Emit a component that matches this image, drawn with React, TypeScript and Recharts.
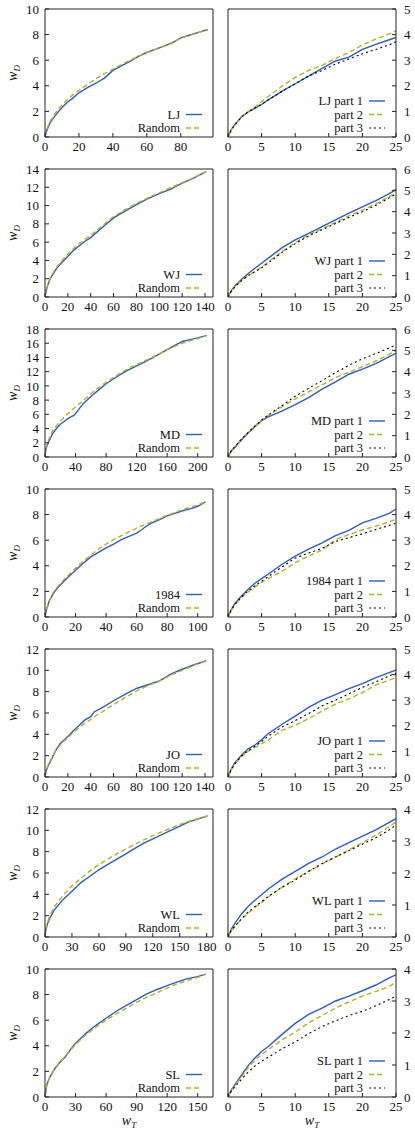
import { LineChart, Line, XAxis, YAxis } from "recharts";

const FONT = '"Liberation Serif", "Times New Roman", serif';
const BLUE = "#2b5cc4";
const OLIVE = "#b5b024";
const INK = "#111";
const FRAME = "#222";

// left column: w_D against w_T, book vs random
const ljX = [0, 1, 3, 5, 8, 10, 13, 16, 20, 25, 30, 35, 40, 45, 50, 55, 60, 65, 70, 75, 80, 85, 90, 96];
const ljBook = [0, 0.5, 1.1, 1.5, 2.0, 2.3, 2.7, 3.0, 3.45, 3.85, 4.2, 4.6, 5.2, 5.55, 5.9, 6.3, 6.6, 6.85, 7.1, 7.35, 7.75, 7.95, 8.15, 8.4];
const ljRandom = [0, 0.6, 1.2, 1.65, 2.2, 2.5, 2.9, 3.25, 3.65, 4.1, 4.55, 4.95, 5.3, 5.65, 6.0, 6.3, 6.6, 6.85, 7.1, 7.4, 7.7, 7.95, 8.15, 8.4];

const wjX = [0, 1, 3, 5, 8, 10, 15, 20, 25, 30, 35, 40, 50, 60, 70, 80, 90, 100, 110, 120, 130, 141];
const wjBook = [0, 0.7, 1.5, 2.1, 2.7, 3.1, 3.8, 4.45, 5.1, 5.6, 6.1, 6.5, 7.6, 8.65, 9.4, 10.1, 10.75, 11.3, 11.8, 12.45, 13.0, 13.7];
const wjRandom = [0, 0.75, 1.6, 2.2, 2.85, 3.25, 4.0, 4.7, 5.3, 5.85, 6.3, 6.75, 7.8, 8.8, 9.55, 10.25, 10.85, 11.4, 11.95, 12.5, 13.05, 13.7];

const mdX = [0, 1, 3, 5, 10, 15, 20, 25, 30, 35, 38, 40, 45, 50, 60, 70, 80, 90, 100, 110, 120, 130, 140, 150, 160, 170, 180, 190, 200, 212];
const mdBook = [0, 1.0, 1.7, 2.2, 3.3, 4.0, 4.6, 5.0, 5.4, 5.7, 5.85, 6.1, 6.8, 7.5, 8.5, 9.4, 10.3, 11.0, 11.7, 12.3, 12.8, 13.35, 13.9, 14.5, 15.1, 15.7, 16.25, 16.5, 16.75, 17.1];
const mdRandom = [0, 1.1, 1.9, 2.5, 3.7, 4.4, 5.0, 5.6, 6.1, 6.6, 6.85, 7.0, 7.5, 7.9, 8.9, 9.75, 10.5, 11.2, 11.9, 12.5, 13.0, 13.5, 14.0, 14.55, 15.1, 15.55, 16.0, 16.35, 16.65, 17.1];

const n84X = [0, 1, 3, 5, 8, 10, 15, 20, 25, 30, 35, 40, 45, 50, 55, 60, 63, 67, 70, 75, 80, 85, 90, 95, 100, 105];
const n84Book = [0, 0.6, 1.3, 1.75, 2.25, 2.5, 3.1, 3.65, 4.2, 4.7, 5.05, 5.4, 5.7, 6.05, 6.3, 6.55, 6.8, 7.15, 7.35, 7.6, 7.9, 8.1, 8.3, 8.45, 8.65, 9.0];
const n84Random = [0, 0.65, 1.35, 1.85, 2.35, 2.6, 3.25, 3.8, 4.35, 4.85, 5.3, 5.7, 6.05, 6.35, 6.65, 6.95, 7.1, 7.3, 7.45, 7.7, 7.95, 8.15, 8.4, 8.55, 8.75, 9.0];

const joX = [0, 1, 3, 5, 8, 10, 13, 16, 20, 25, 30, 35, 40, 43, 50, 60, 70, 80, 90, 100, 110, 120, 130, 141];
const joBook = [0, 0.6, 1.1, 1.5, 2.2, 2.6, 3.1, 3.4, 3.8, 4.35, 4.85, 5.35, 5.65, 6.1, 6.5, 7.15, 7.75, 8.3, 8.65, 9.0, 9.65, 10.1, 10.5, 10.9];
const joRandom = [0, 0.65, 1.2, 1.6, 2.2, 2.55, 2.95, 3.3, 3.7, 4.2, 4.65, 5.05, 5.4, 5.65, 6.1, 6.8, 7.45, 8.05, 8.55, 9.0, 9.55, 10.0, 10.45, 10.9];

const wlX = [0, 1, 3, 5, 10, 20, 30, 40, 50, 60, 70, 80, 90, 100, 110, 120, 130, 140, 150, 160, 170, 181];
const wlBook = [0, 0.7, 1.3, 1.7, 2.5, 3.5, 4.3, 5.1, 5.7, 6.3, 6.8, 7.3, 7.8, 8.3, 8.8, 9.2, 9.6, 10.0, 10.4, 10.8, 11.05, 11.35];
const wlRandom = [0, 0.8, 1.45, 1.9, 2.8, 3.9, 4.8, 5.5, 6.2, 6.8, 7.3, 7.8, 8.25, 8.7, 9.1, 9.5, 9.85, 10.2, 10.55, 10.85, 11.1, 11.35];

const slX = [0, 1, 2, 5, 8, 10, 15, 20, 25, 30, 40, 50, 60, 70, 80, 90, 100, 110, 120, 130, 140, 150, 158];
const slBook = [0, 0.6, 1.0, 1.6, 2.0, 2.25, 2.75, 3.15, 3.7, 4.2, 4.95, 5.6, 6.15, 6.7, 7.15, 7.6, 8.05, 8.4, 8.7, 9.0, 9.25, 9.4, 9.6];
const slRandom = [0, 0.6, 1.0, 1.6, 2.0, 2.25, 2.75, 3.2, 3.65, 4.1, 4.85, 5.45, 6.0, 6.5, 6.95, 7.4, 7.8, 8.15, 8.5, 8.85, 9.1, 9.35, 9.6];

// right column: first 25 of w_T, split into thirds
const partX = [0, 0.5, 1, 2, 3, 4, 5, 6, 8, 10, 12, 14, 16, 18, 20, 22, 24, 25];
const ljPart1 = [0, 0.3, 0.48, 0.78, 0.98, 1.12, 1.27, 1.45, 1.78, 2.08, 2.38, 2.68, 2.97, 3.12, 3.42, 3.62, 3.8, 3.89];
const ljPart2 = [0, 0.3, 0.48, 0.8, 1.0, 1.17, 1.38, 1.58, 1.98, 2.33, 2.6, 2.8, 3.07, 3.3, 3.6, 3.82, 4.03, 4.14];
const ljPart3 = [0, 0.28, 0.47, 0.78, 0.98, 1.14, 1.28, 1.45, 1.78, 2.08, 2.38, 2.6, 2.85, 3.05, 3.25, 3.42, 3.6, 3.72];
const wjPart1 = [0, 0.3, 0.5, 0.82, 1.1, 1.35, 1.58, 1.82, 2.3, 2.68, 2.98, 3.3, 3.62, 3.93, 4.23, 4.52, 4.85, 5.03];
const wjPart2 = [0, 0.28, 0.48, 0.78, 1.0, 1.2, 1.4, 1.65, 2.12, 2.55, 2.92, 3.2, 3.5, 3.8, 4.07, 4.37, 4.7, 4.86];
const wjPart3 = [0, 0.28, 0.47, 0.77, 1.0, 1.18, 1.37, 1.6, 2.08, 2.5, 2.87, 3.15, 3.45, 3.73, 4.0, 4.3, 4.65, 4.82];
const mdPart1 = [0, 0.28, 0.45, 0.8, 1.12, 1.42, 1.7, 1.88, 2.15, 2.45, 2.78, 3.18, 3.52, 3.88, 4.12, 4.38, 4.7, 4.86];
const mdPart2 = [0, 0.3, 0.48, 0.83, 1.15, 1.45, 1.72, 1.95, 2.35, 2.72, 3.05, 3.38, 3.72, 3.98, 4.23, 4.5, 4.82, 5.0];
const mdPart3 = [0, 0.3, 0.48, 0.84, 1.15, 1.45, 1.73, 1.97, 2.4, 2.85, 3.22, 3.58, 3.95, 4.3, 4.6, 4.85, 5.12, 5.25];
const n84Part1 = [0, 0.3, 0.52, 0.82, 1.08, 1.32, 1.5, 1.68, 2.05, 2.38, 2.65, 2.9, 3.18, 3.38, 3.68, 3.85, 4.05, 4.22];
const n84Part2 = [0, 0.28, 0.47, 0.76, 0.98, 1.18, 1.35, 1.5, 1.78, 2.12, 2.38, 2.62, 3.02, 3.22, 3.4, 3.55, 3.72, 3.82];
const n84Part3 = [0, 0.28, 0.48, 0.78, 1.02, 1.22, 1.4, 1.58, 1.95, 2.3, 2.5, 2.68, 2.95, 3.1, 3.25, 3.42, 3.58, 3.66];
const joPart1 = [0, 0.32, 0.55, 0.85, 1.1, 1.25, 1.45, 1.7, 2.05, 2.38, 2.72, 3.0, 3.22, 3.45, 3.65, 3.88, 4.08, 4.18];
const joPart2 = [0, 0.3, 0.5, 0.8, 1.0, 1.15, 1.3, 1.45, 1.82, 2.02, 2.28, 2.58, 2.85, 3.05, 3.3, 3.6, 3.78, 3.88];
const joPart3 = [0, 0.3, 0.5, 0.82, 1.03, 1.2, 1.38, 1.6, 1.95, 2.2, 2.48, 2.78, 3.0, 3.25, 3.5, 3.72, 3.95, 4.05];
const wlPart1 = [0, 0.25, 0.42, 0.72, 0.95, 1.15, 1.32, 1.5, 1.8, 2.05, 2.3, 2.5, 2.75, 2.95, 3.15, 3.35, 3.58, 3.7];
const wlPart2 = [0, 0.2, 0.32, 0.55, 0.75, 0.92, 1.08, 1.25, 1.55, 1.82, 2.05, 2.28, 2.5, 2.72, 2.95, 3.18, 3.45, 3.6];
const wlPart3 = [0, 0.2, 0.33, 0.57, 0.78, 0.95, 1.1, 1.27, 1.55, 1.78, 2.05, 2.3, 2.5, 2.7, 2.9, 3.1, 3.35, 3.5];
const slPart1 = [0, 0.22, 0.38, 0.68, 0.98, 1.22, 1.42, 1.58, 1.95, 2.3, 2.58, 2.78, 3.0, 3.15, 3.32, 3.5, 3.72, 3.82];
const slPart2 = [0, 0.2, 0.35, 0.62, 0.92, 1.15, 1.33, 1.48, 1.78, 2.03, 2.32, 2.55, 2.78, 2.97, 3.15, 3.3, 3.45, 3.6];
const slPart3 = [0, 0.18, 0.32, 0.55, 0.78, 0.97, 1.12, 1.25, 1.5, 1.72, 1.98, 2.2, 2.38, 2.55, 2.68, 2.85, 3.05, 3.15];

const partTicks = [0, 5, 10, 15, 20, 25];

const range = (max: number, step: number) =>
  Array.from({ length: Math.round(max / step) + 1 }, (_, i) => i * step);

const leftPanels = [
  { name: "LJ", x: ljX, a: ljBook, b: ljRandom, xMax: 99, xTicks: range(80, 20), yMax: 10 },
  { name: "WJ", x: wjX, a: wjBook, b: wjRandom, xMax: 147, xTicks: range(140, 20), yMax: 14 },
  { name: "MD", x: mdX, a: mdBook, b: mdRandom, xMax: 220, xTicks: range(200, 40), yMax: 18 },
  { name: "1984", x: n84X, a: n84Book, b: n84Random, xMax: 110, xTicks: range(100, 20), yMax: 10 },
  { name: "JO", x: joX, a: joBook, b: joRandom, xMax: 147, xTicks: range(140, 20), yMax: 12 },
  { name: "WL", x: wlX, a: wlBook, b: wlRandom, xMax: 187, xTicks: range(180, 30), yMax: 12 },
  { name: "SL", x: slX, a: slBook, b: slRandom, xMax: 165, xTicks: range(150, 30), yMax: 10 },
];

const rightPanels = [
  { name: "LJ", p: [ljPart1, ljPart2, ljPart3], yMax: 5 },
  { name: "WJ", p: [wjPart1, wjPart2, wjPart3], yMax: 6 },
  { name: "MD", p: [mdPart1, mdPart2, mdPart3], yMax: 6 },
  { name: "1984", p: [n84Part1, n84Part2, n84Part3], yMax: 5 },
  { name: "JO", p: [joPart1, joPart2, joPart3], yMax: 5 },
  { name: "WL", p: [wlPart1, wlPart2, wlPart3], yMax: 4 },
  { name: "SL", p: [slPart1, slPart2, slPart3], yMax: 4 },
];

type Style = { color: string; dash?: string; width: number };
const solid: Style = { color: BLUE, width: 1.4 };
const dashed: Style = { color: OLIVE, dash: "5 3", width: 1.4 };
const dotted: Style = { color: "#000", dash: "2 3", width: 1.1 };

const tickFont = { fontSize: 13, fill: INK, fontFamily: FONT };

function Key({ rows, textX, top, step }: { rows: { label: string; s: Style }[]; textX: number; top: number; step: number }) {
  return (
    <g>
      {rows.map((r, i) => (
        <g key={i}>
          <text x={textX} y={top + i * step} dy="0.35em" textAnchor="end" fontFamily={FONT} fontSize={12.5} fill={INK}>
            {r.label}
          </text>
          <line x1={textX + 6} x2={textX + 22} y1={top + i * step} y2={top + i * step}
            stroke={r.s.color} strokeWidth={r.s.width} strokeDasharray={r.s.dash} />
        </g>
      ))}
    </g>
  );
}

function AxisTitle({ x, y, sub, rotate }: { x: number; y: number; sub: string; rotate?: boolean }) {
  return (
    <text x={x} y={y} transform={rotate ? `rotate(-90 ${x} ${y})` : undefined} textAnchor="middle"
      fontFamily={FONT} fontStyle="italic" fontSize={14} fill={INK} dy={rotate ? "0.3em" : undefined}>
      w<tspan fontSize={9} dy={3}>{sub}</tspan>
    </text>
  );
}

// axis boxes are 1px thick: zero-sized axes are not drawn at all
function Axes({ xMax, xTicks, yMax, side }: { xMax: number; xTicks: number[]; yMax: number; side: "left" | "right" }) {
  const yTicks = range(yMax, yMax > 6 ? 2 : 1);
  const common = { axisLine: { stroke: FRAME }, tickLine: { stroke: FRAME }, tickSize: -4, interval: 0 as const, allowDataOverflow: true };
  return [
    <XAxis key="xb" xAxisId="b" dataKey="x" type="number" domain={[0, xMax]} ticks={xTicks} height={1} tickMargin={9} tick={tickFont} {...common} />,
    <XAxis key="xt" xAxisId="t" orientation="top" dataKey="x" type="number" domain={[0, xMax]} ticks={xTicks} height={1} tick={false} {...common} />,
    <YAxis key="yl" yAxisId="l" orientation="left" type="number" domain={[0, yMax]} ticks={yTicks} width={1} tickMargin={10}
      tick={side === "left" ? tickFont : false} {...common} />,
    <YAxis key="yr" yAxisId="r" orientation="right" type="number" domain={[0, yMax]} ticks={yTicks} width={1} tickMargin={12}
      tick={side === "right" ? { ...tickFont, textAnchor: "start" } : false} {...common} />,
  ];
}

function series(key: string, s: Style, yId: string) {
  return (
    <Line key={key} xAxisId="b" yAxisId={yId} dataKey={key} type="linear" dot={false} activeDot={false}
      stroke={s.color} strokeWidth={s.width} strokeDasharray={s.dash} isAnimationActive={false} />
  );
}

export default function App() {
  return (
    <div style={{ position: "absolute", left: 0, top: 0, width: 415, height: 1129, background: "#fff" }}>
      {leftPanels.map((p, i) => {
        const last = i === leftPanels.length - 1;
        const data = p.x.map((x, j) => ({ x, a: p.a[j], b: p.b[j] }));
        return (
          <div key={"l" + i} style={{ position: "absolute", left: 0, top: 160 * i }}>
            <LineChart width={220} height={last ? 169 : 160} data={data}
              margin={{ top: 8, left: 44, right: 6, bottom: last ? 31 : 22 }}>
              {Axes({ xMax: p.xMax, xTicks: p.xTicks, yMax: p.yMax, side: "left" })}
              {series("a", solid, "l")}
              {series("b", dashed, "l")}
              <Key rows={[{ label: p.name, s: solid }, { label: "Random", s: dashed }]} textX={180} top={114.5} step={13.5} />
              <AxisTitle x={13} y={73} sub="D" rotate />
              {last && <AxisTitle x={129} y={165} sub="T" />}
            </LineChart>
          </div>
        );
      })}
      {rightPanels.map((p, i) => {
        const last = i === rightPanels.length - 1;
        const data = partX.map((x, j) => ({ x, p1: p.p[0][j], p2: p.p[1][j], p3: p.p[2][j] }));
        return (
          <div key={"r" + i} style={{ position: "absolute", left: 220, top: 160 * i }}>
            <LineChart width={195} height={last ? 169 : 160} data={data}
              margin={{ top: 8, left: 7, right: 18, bottom: last ? 31 : 22 }}>
              {Axes({ xMax: 25, xTicks: partTicks, yMax: p.yMax, side: "right" })}
              {series("p1", solid, "r")}
              {series("p2", dashed, "r")}
              {series("p3", dotted, "r")}
              <Key rows={[
                { label: p.name + " part 1", s: solid },
                { label: "part 2", s: dashed },
                { label: "part 3", s: dotted },
              ]} textX={143} top={101} step={13.5} />
              {last && <AxisTitle x={92} y={165} sub="T" />}
            </LineChart>
          </div>
        );
      })}
    </div>
  );
}
